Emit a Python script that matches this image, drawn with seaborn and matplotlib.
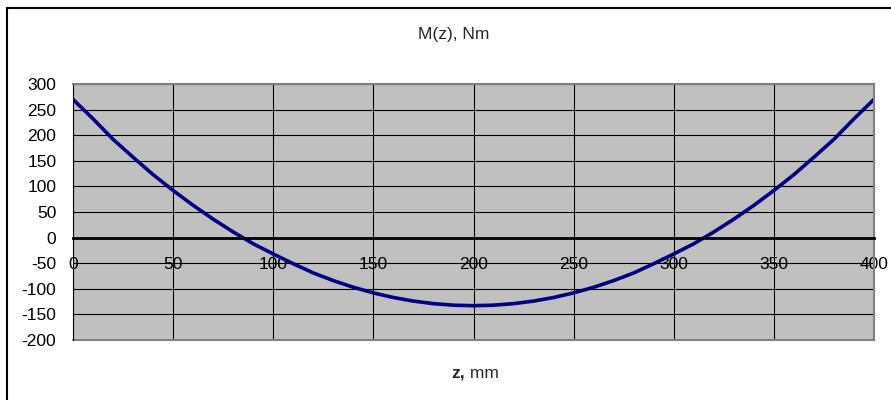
import seaborn as sns
import matplotlib.pyplot as plt
import matplotlib.patches as patches
import numpy as np
import pandas as pd

# bending moment, every 10 mm
z_mm = [0, 10, 20, 30, 40, 50, 60, 70, 80, 90, 100, 110, 120, 130, 140, 150, 160, 170, 180, 190, 200,
        210, 220, 230, 240, 250, 260, 270, 280, 290, 300, 310, 320, 330, 340, 350, 360, 370, 380, 390, 400]
m_nm = [270, 232, 192, 157, 123, 92, 63, 36, 11, -12, -32, -51, -69, -84, -97, -108, -117, -124, -129, -132, -133,
        -132, -129, -124, -117, -108, -97, -84, -69, -51, -32, -12, 11, 36, 63, 92, 123, 157, 192, 232, 270]
x_ticks = [0, 50, 100, 150, 200, 250, 300, 350, 400]
y_ticks = [-200, -150, -100, -50, 0, 50, 100, 150, 200, 250, 300]

sns.set_style("white")
plt.rcParams['font.family'] = ['Liberation Sans', 'DejaVu Sans']
plt.rcParams['axes.unicode_minus'] = False

df = pd.DataFrame({"z": z_mm, "M": m_nm})

fig = plt.figure(figsize=(8.91, 4.0), dpi=100)
ax = fig.add_axes([73 / 891, 60 / 400, 801 / 891, 256 / 400])
ax.set_facecolor("#c0c0c0")

sns.lineplot(data=df, x="z", y="M", ax=ax, color="#000080", linewidth=2.6)

ax.set_xlim(0, 400)
ax.set_ylim(-200, 300)
ax.set_xticks(x_ticks)
ax.set_yticks(y_ticks)
ax.grid(True, color="black", linewidth=0.8)
ax.set_axisbelow(True)

for s in ["top", "right", "bottom"]:
    ax.spines[s].set_color("#808080")
    ax.spines[s].set_linewidth(1.5)
ax.spines["left"].set_color("black")
ax.spines["left"].set_linewidth(0.8)
ax.spines["bottom"].set_position(("data", 0))
ax.spines["bottom"].set_color("black")
ax.spines["bottom"].set_linewidth(2.0)
# gray frame along the bottom of the plot area
ax.plot([0, 1], [0, 0], transform=ax.transAxes, color="#808080", lw=1.5, clip_on=False)

ax.tick_params(axis="x", direction="out", length=4, width=1.5, pad=10, labelsize=12.5, colors="black")
ax.tick_params(axis="y", direction="out", length=4, width=0.8, pad=8, labelsize=12.5, colors="black")
ax.set_xlabel("")
ax.set_ylabel("")

fig.text(454 / 891, 1 - 34 / 400, "M(z), Nm", ha="center", va="center", fontsize=12.5)
fig.text(465 / 891, 1 - 373 / 400, "z,", ha="right", va="center", fontsize=12.5, fontweight="bold")
fig.text(465 / 891, 1 - 373 / 400, " mm", ha="left", va="center", fontsize=12.5)

fig.patches.append(patches.Rectangle((7 / 891, -0.2), 1.2, 1.2 + (1 - 8 / 400 - 1),
                                     transform=fig.transFigure, fill=False,
                                     edgecolor="black", linewidth=1.5))

fig.savefig("out.png", dpi=100)
